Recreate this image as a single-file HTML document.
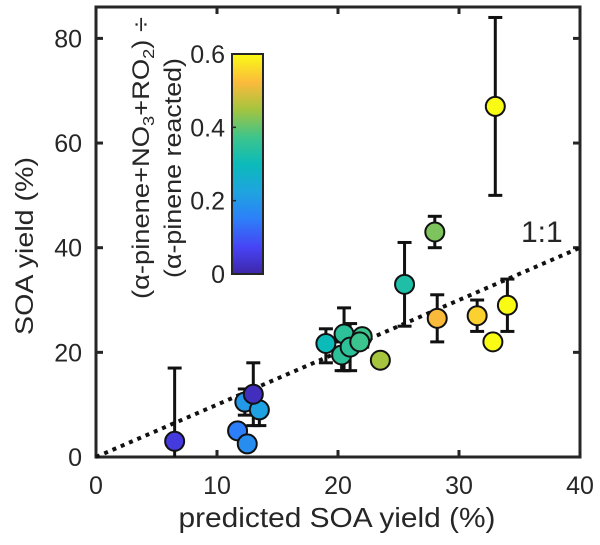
<!DOCTYPE html>
<html><head><meta charset="utf-8"><style>
body{margin:0;background:#fff;}
svg text{font-family:"Liberation Sans",sans-serif;fill:#262626;}
</style></head><body>
<svg id="chart" width="600" height="540" xmlns="http://www.w3.org/2000/svg">
<defs>
<linearGradient id="parula" x1="0" y1="1" x2="0" y2="0">
<stop offset="0" stop-color="#3e26a8"/><stop offset="0.12" stop-color="#4743f5"/><stop offset="0.25" stop-color="#2d7ff9"/><stop offset="0.37" stop-color="#1fa3e0"/><stop offset="0.5" stop-color="#0bbbba"/><stop offset="0.62" stop-color="#3cc48c"/><stop offset="0.75" stop-color="#a6c43e"/><stop offset="0.87" stop-color="#fbba3c"/><stop offset="1" stop-color="#f9fb15"/>
</linearGradient>
</defs>
<g id="plot"></g>
</svg>
<script>
const xs=[6.5,11.7,12.5,12.3,13.5,13,19,20.5,20.3,21,22,21.8,23.5,25.5,28,28.2,31.5,32.8,34,33];
const ys=[3,5,2.5,10.5,9,12,21.7,23.5,19.5,21,23,22,18.5,33,43,26.5,27,22,29,67];
const errLo=[0,null,null,8,6,6,18,16.5,16.5,16.5,21,null,null,25,40,22,24,null,24,50];
const errHi=[17,null,null,13,null,18,24.5,28.5,22,25.5,24,null,null,41,46,31,30,null,34,84];
const cval=[0.05,0.15,0.18,0.2,0.22,0.02,0.3,0.35,0.35,0.35,0.37,0.37,0.45,0.33,0.42,0.52,0.55,0.6,0.6,0.6];
const xTicks=[0,10,20,30,40], yTicks=[0,20,40,60,80], cTicks=[0,0.2,0.4,0.6];
const L=96,R=580,T=7,B=457;
const X=v=>L+(R-L)*v/40, Y=v=>B-(B-T)*v/86;
const CT=54,CB=274, CY=v=>CB-(CB-CT)*v/0.6;
const stops=[[0,[62,38,168]],[0.12,[71,67,245]],[0.25,[45,127,249]],[0.37,[31,163,224]],[0.5,[11,187,186]],[0.62,[60,196,140]],[0.75,[166,196,62]],[0.87,[251,186,60]],[1,[249,251,21]]];
function cmap(v){let t=Math.max(0,Math.min(1,v/0.6));for(let i=1;i<stops.length;i++){if(t<=stops[i][0]){const a=stops[i-1],b=stops[i],f=(t-a[0])/(b[0]-a[0]);return 'rgb('+a[1].map((c,k)=>Math.round(c+(b[1][k]-c)*f)).join(',')+')';}}return 'rgb(249,251,21)';}
const ns='http://www.w3.org/2000/svg', g=document.getElementById('plot');
function mk(t,a,p){const e=document.createElementNS(ns,t);for(const k in a)e.setAttribute(k,a[k]);(p||g).appendChild(e);return e;}
let e=mk('rect',{x:L,y:T,width:R-L,height:B-T,fill:'none',stroke:'#262626','stroke-width':3});


xTicks.forEach(v=>{
 mk('line',{x1:X(v),x2:X(v),y1:B,y2:B-7,stroke:'#262626','stroke-width':3});
 mk('line',{x1:X(v),x2:X(v),y1:T,y2:T+7,stroke:'#262626','stroke-width':3});
 const t=mk('text',{x:X(v),y:B+37,'text-anchor':'middle','font-size':25});t.textContent=v;
 
 
});
yTicks.forEach(v=>{
 mk('line',{x1:L,x2:L+7,y1:Y(v),y2:Y(v),stroke:'#262626','stroke-width':3});
 mk('line',{x1:R,x2:R-7,y1:Y(v),y2:Y(v),stroke:'#262626','stroke-width':3});
 const t=mk('text',{x:L-14,y:Y(v)+9,'text-anchor':'end','font-size':25});t.textContent=v;
 
 
});
e=mk('line',{x1:X(0),y1:Y(0),x2:X(40),y2:Y(40),stroke:'#111','stroke-width':4,'stroke-dasharray':'4 5'});


e=mk('text',{x:521,y:242,'font-size':30});e.textContent='1:1';


xs.forEach((x,i)=>{
 if(errLo[i]==null&&errHi[i]==null)return;
 const lo=errLo[i]==null?ys[i]:errLo[i], hi=errHi[i]==null?ys[i]:errHi[i];
 const eb=mk('g',{stroke:'#111','stroke-width':3});
 
 
 mk('line',{x1:X(x),x2:X(x),y1:Y(lo),y2:Y(hi)},eb);
 if(errLo[i]!=null&&errLo[i]>0)mk('line',{x1:X(x)-7,x2:X(x)+7,y1:Y(lo),y2:Y(lo)},eb);
 if(errHi[i]!=null)mk('line',{x1:X(x)-7,x2:X(x)+7,y1:Y(hi),y2:Y(hi)},eb);
});
xs.forEach((x,i)=>{
 const c=mk('circle',{cx:X(x),cy:Y(ys[i]),r:9.5,fill:cmap(cval[i]),stroke:'#111','stroke-width':2});
 
 
});
e=mk('rect',{x:232,y:CT,width:31,height:CB-CT,fill:'url(#parula)',stroke:'#262626','stroke-width':2});


cTicks.forEach(v=>{
 mk('line',{x1:232,x2:236,y1:CY(v),y2:CY(v),stroke:'#262626','stroke-width':1.5});
 const t=mk('text',{x:225,y:CY(v)+9,'text-anchor':'end','font-size':25});t.textContent=v;
 
 
});
</script>
<svg style="position:absolute;left:0;top:0" width="600" height="540" xmlns="http://www.w3.org/2000/svg">
<text transform="translate(149,158) rotate(-90)" text-anchor="middle" font-size="24" textLength="282" lengthAdjust="spacingAndGlyphs" font-family="Liberation Sans, sans-serif" fill="#262626">(α-pinene+NO<tspan font-size="16" dy="5">3</tspan><tspan dy="-5">+RO</tspan><tspan font-size="16" dy="5">2</tspan><tspan dy="-5">) ÷</tspan></text>
<text transform="translate(181,168) rotate(-90)" text-anchor="middle" font-size="24" textLength="220" lengthAdjust="spacingAndGlyphs" font-family="Liberation Sans, sans-serif" fill="#262626">(α-pinene reacted)</text>
<text transform="translate(33,246) rotate(-90)" text-anchor="middle" font-size="25" textLength="178" lengthAdjust="spacingAndGlyphs" font-family="Liberation Sans, sans-serif" fill="#111">SOA yield (%)</text>
<text x="337" y="527" text-anchor="middle" font-size="28" textLength="317" lengthAdjust="spacingAndGlyphs" font-family="Liberation Sans, sans-serif" fill="#111">predicted SOA yield (%)</text>
</svg>
</body></html>
